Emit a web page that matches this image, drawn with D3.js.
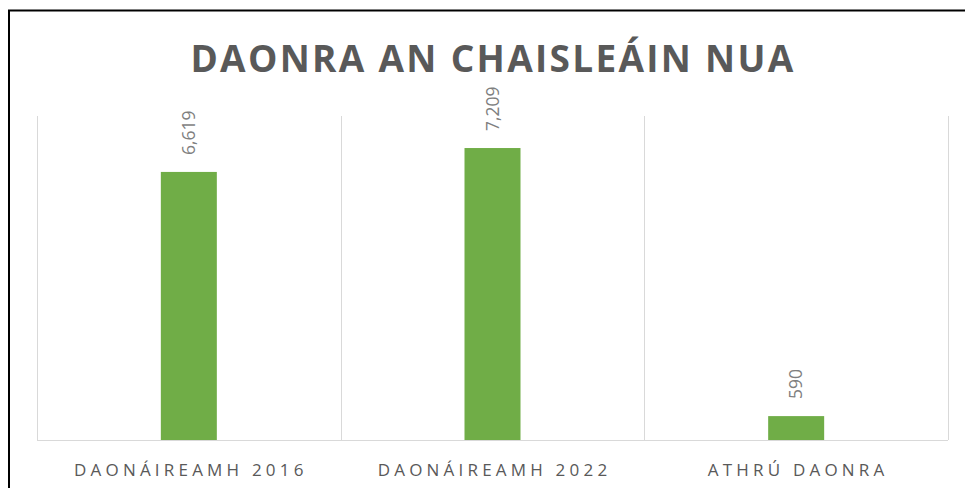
<!DOCTYPE html>
<html>
<head>
<meta charset="utf-8">
<script src="https://cdn.jsdelivr.net/npm/d3@7"></script>
<style>
  html, body { margin: 0; padding: 0; background: #fff; }
</style>
</head>
<body>
<div id="chart"></div>
<script>
const TITLE = 'DAONRA AN CHAISLEÁIN NUA';
const categories = ['DAONÁIREAMH 2016', 'DAONÁIREAMH 2022', 'ATHRÚ DAONRA'];
const values = [6619, 7209, 590];

const W = 965, H = 488;
const GREEN = '#70AD47';
const TEXT = '#595959';
const GRID = '#D9D9D9';
const FONT = "'Open Sans', sans-serif";

const plot = { left: 37, right: 948, top: 116, bottom: 440 };

const svg = d3.select('#chart').append('svg')
  .attr('width', W).attr('height', H);

// outer frame (left and top edges visible)
svg.append('path')
  .attr('d', `M9,${H} V10.5 H${W}`)
  .attr('fill', 'none')
  .attr('stroke', '#000')
  .attr('stroke-width', 2);

const x = d3.scaleBand()
  .domain(categories)
  .range([plot.left, plot.right]);

const y = d3.scaleLinear()
  .domain([0, 8000])
  .range([plot.bottom, plot.top]);

// vertical category dividers
const edges = categories.map(c => x(c)).concat([plot.right]);
svg.append('g').selectAll('line')
  .data(edges)
  .join('line')
  .attr('x1', d => Math.round(d) + 0.5).attr('x2', d => Math.round(d) + 0.5)
  .attr('y1', plot.top).attr('y2', plot.bottom)
  .attr('stroke', GRID).attr('stroke-width', 1);

// bars
const barW = 56;
svg.append('g').selectAll('rect')
  .data(values)
  .join('rect')
  .attr('x', (d, i) => x(categories[i]) + x.bandwidth() / 2 - barW / 2)
  .attr('y', d => y(d))
  .attr('width', barW)
  .attr('height', d => y(0) - y(d))
  .attr('fill', GREEN);

// baseline
svg.append('line')
  .attr('x1', plot.left).attr('x2', plot.right)
  .attr('y1', plot.bottom + 0.5).attr('y2', plot.bottom + 0.5)
  .attr('stroke', GRID).attr('stroke-width', 1);

// value labels (rotated)
svg.append('g').selectAll('text')
  .data(values)
  .join('text')
  .attr('transform', (d, i) => {
    const cx = x(categories[i]) + x.bandwidth() / 2;
    return `translate(${cx + 6},${y(d) - 17}) rotate(-90)`;
  })
  .attr('text-anchor', 'start')
  .style('font-family', FONT)
  .style('font-size', '17.5px')
  .style('fill', '#7F7F7F')
  .text(d => d3.format(',')(d));

// category labels
svg.append('g').selectAll('text')
  .data(categories)
  .join('text')
  .attr('x', d => x(d) + x.bandwidth() / 2 + 2)
  .attr('y', 476)
  .attr('text-anchor', 'middle')
  .style('font-family', FONT)
  .style('font-size', '17px')
  .style('letter-spacing', '4.2px')
  .style('fill', TEXT)
  .text(d => d);

// title
svg.append('text')
  .attr('x', 493)
  .attr('y', 72)
  .attr('text-anchor', 'middle')
  .style('font-family', FONT)
  .style('font-weight', 'bold')
  .style('font-size', '37px')
  .style('letter-spacing', '2.3px')
  .style('fill', TEXT)
  .text(TITLE);
</script>
</body>
</html>
